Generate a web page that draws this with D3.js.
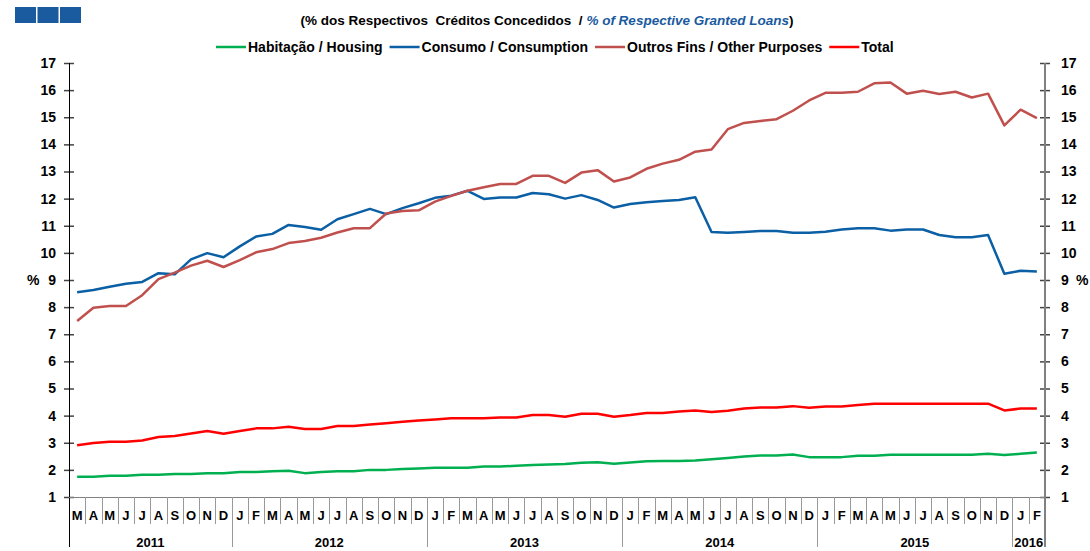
<!DOCTYPE html>
<html>
<head>
<meta charset="utf-8">
<script src="https://cdn.jsdelivr.net/npm/d3@7"></script>
<style>
  body { margin: 0; background: #fff; }
  svg { display: block; font-family: "Liberation Sans", Arial, sans-serif; }
</style>
</head>
<body>
<svg id="chart" width="1090" height="551"></svg>
<script>
// monthly series, Mar 2011 .. Feb 2016
const startMonth = new Date(2011, 2, 1);
const endMonth = new Date(2016, 2, 1);
const monthLetters = ["J", "F", "M", "A", "M", "J", "J", "A", "S", "O", "N", "D"];

const housing = [1.75, 1.75, 1.78, 1.78, 1.82, 1.82, 1.85, 1.85, 1.88, 1.88,
  1.92, 1.92, 1.95, 1.97, 1.88, 1.92, 1.95, 1.95, 2.0, 2.0, 2.03, 2.05,
  2.08, 2.08, 2.08, 2.12, 2.12, 2.15, 2.18, 2.2, 2.22, 2.26, 2.28, 2.23,
  2.27, 2.32, 2.33, 2.33, 2.35, 2.39, 2.44, 2.49, 2.53, 2.53, 2.57, 2.47,
  2.47, 2.47, 2.52, 2.52, 2.56, 2.56, 2.56, 2.56, 2.56, 2.56, 2.59, 2.55,
  2.59, 2.64];
const consumption = [8.55, 8.63, 8.75, 8.86, 8.93, 9.25, 9.21, 9.76, 9.99, 9.84,
  10.24, 10.6, 10.7, 11.03, 10.95, 10.85, 11.24, 11.43, 11.62, 11.43, 11.65, 11.83,
  12.03, 12.11, 12.29, 11.99, 12.04, 12.04, 12.21, 12.16, 12.0, 12.13, 11.95, 11.67,
  11.8, 11.87, 11.91, 11.95, 12.05, 10.77, 10.74, 10.77, 10.81, 10.81, 10.74, 10.74,
  10.78, 10.86, 10.91, 10.91, 10.82, 10.86, 10.86, 10.66, 10.58, 10.58, 10.66, 9.23,
  9.34, 9.31];
const otherPurposes = [7.49, 7.98, 8.04, 8.04, 8.44, 9.03, 9.27, 9.53, 9.71, 9.48,
  9.73, 10.02, 10.14, 10.36, 10.44, 10.56, 10.75, 10.91, 10.91, 11.45, 11.54, 11.57,
  11.89, 12.1, 12.29, 12.42, 12.54, 12.54, 12.84, 12.84, 12.58, 12.96, 13.05, 12.63,
  12.78, 13.1, 13.29, 13.43, 13.73, 13.81, 14.56, 14.79, 14.86, 14.93, 15.24, 15.62,
  15.9, 15.9, 15.94, 16.25, 16.28, 15.87, 15.98, 15.86, 15.94, 15.73, 15.87, 14.7,
  15.28, 14.97];
const total = [2.91, 2.99, 3.04, 3.04, 3.08, 3.21, 3.25, 3.34, 3.43, 3.33,
  3.43, 3.53, 3.53, 3.59, 3.51, 3.51, 3.62, 3.62, 3.67, 3.72, 3.77, 3.82,
  3.86, 3.9, 3.9, 3.9, 3.93, 3.93, 4.02, 4.02, 3.96, 4.07, 4.07, 3.96,
  4.02, 4.1, 4.1, 4.15, 4.19, 4.13, 4.18, 4.26, 4.3, 4.3, 4.35, 4.29,
  4.34, 4.34, 4.39, 4.44, 4.44, 4.44, 4.44, 4.44, 4.44, 4.44, 4.44, 4.19,
  4.26, 4.26];

const seriesNames = ["Habitação / Housing", "Consumo / Consumption", "Outros Fins / Other Purposes", "Total"];
const seriesColors = ["#00b050", "#0b5fa5", "#c0504d", "#ff0000"];
const seriesValues = [housing, consumption, otherPurposes, total];
const yTicks = d3.range(1, 18);

const months = d3.timeMonths(startMonth, endMonth);

const svg = d3.select("#chart");
const margin = { left: 69, right: 1045, top: 63, bottom: 497 };

const x = d3.scaleBand()
    .domain(months.map((d, i) => i))
    .range([margin.left, margin.right])
    .padding(0);
const y = d3.scaleLinear()
    .domain([1, 17])
    .range([margin.bottom, margin.top]);
const cx = i => x(i) + x.bandwidth() / 2;

// logo squares
svg.append("g")
  .selectAll("rect")
  .data([0, 1, 2])
  .join("rect")
    .attr("x", d => 15 + d * 22.5)
    .attr("y", 7)
    .attr("width", 21)
    .attr("height", 16)
    .attr("fill", "#1a5a9e");

// subtitle (keeps the double spaces of the original)
const sub = svg.append("text")
    .attr("x", 547)
    .attr("y", 25)
    .attr("text-anchor", "middle")
    .style("white-space", "pre")
    .style("font-size", "13.5px")
    .style("font-weight", "bold");
sub.append("tspan").attr("fill", "#000").text("(% dos Respectivos  Créditos Concedidos  / ");
sub.append("tspan").attr("fill", "#1a5a9e").style("font-style", "italic").text("% of Respective Granted Loans");
sub.append("tspan").attr("fill", "#000").text(")");

// legend
const legend = svg.append("g").style("font-size", "14px").style("font-weight", "bold");
let lx = 216;
seriesNames.forEach((name, i) => {
  legend.append("line")
      .attr("x1", lx).attr("x2", lx + 30)
      .attr("y1", 47).attr("y2", 47)
      .attr("stroke", seriesColors[i])
      .attr("stroke-width", 2.5);
  const t = legend.append("text")
      .attr("x", lx + 32)
      .attr("y", 52)
      .attr("fill", "#000")
      .text(name);
  lx += 32 + t.node().getComputedTextLength() + 7;
});

// left axis
const yLeft = svg.append("g")
    .attr("transform", `translate(${margin.left},0)`)
    .call(d3.axisLeft(y).tickValues(yTicks).tickSize(5).tickFormat(d3.format("d")));
yLeft.select(".domain").remove();
yLeft.selectAll(".tick line").attr("x1", -5).attr("x2", 5).attr("stroke", "#444").attr("stroke-width", 1.5);
yLeft.selectAll(".tick text").attr("x", -13).style("font-size", "14px").style("font-weight", "bold").attr("fill", "#000");
svg.append("line")
    .attr("x1", margin.left + 0.5).attr("x2", margin.left + 0.5)
    .attr("y1", margin.top).attr("y2", 547)
    .attr("stroke", "#000");

// right axis
const yRight = svg.append("g")
    .attr("transform", `translate(${margin.right},0)`)
    .call(d3.axisRight(y).tickValues(yTicks).tickSize(5).tickFormat(d3.format("d")));
yRight.select(".domain").remove();
yRight.selectAll(".tick line").attr("x1", -5).attr("x2", 5).attr("stroke", "#444").attr("stroke-width", 1.5);
yRight.selectAll(".tick text").attr("x", 16).style("font-size", "14px").style("font-weight", "bold").attr("fill", "#000");
svg.append("line")
    .attr("x1", margin.right).attr("x2", margin.right)
    .attr("y1", margin.top).attr("y2", 547)
    .attr("stroke", "#808080")
    .attr("stroke-width", 2);

svg.append("text").attr("x", 27).attr("y", y(9) + 5)
    .style("font-size", "14px").style("font-weight", "bold").text("%");
svg.append("text").attr("x", 1076).attr("y", y(9) + 5)
    .style("font-size", "14px").style("font-weight", "bold").text("%");

// bottom axis: months and years
svg.append("line")
    .attr("x1", margin.left).attr("x2", margin.right)
    .attr("y1", margin.bottom + 0.5).attr("y2", margin.bottom + 0.5)
    .attr("stroke", "#808080");

const xAxis = svg.append("g");
xAxis.selectAll("line.sep")
  .data(months.slice(1))
  .join("line")
    .attr("class", "sep")
    .attr("x1", (d, i) => Math.round(x(i + 1)) + 0.5)
    .attr("x2", (d, i) => Math.round(x(i + 1)) + 0.5)
    .attr("y1", margin.bottom)
    .attr("y2", d => d.getMonth() === 0 ? 547 : 524)
    .attr("stroke", "#999");

xAxis.selectAll("text.month")
  .data(months)
  .join("text")
    .attr("class", "month")
    .attr("x", (d, i) => cx(i))
    .attr("y", 520)
    .attr("text-anchor", "middle")
    .style("font-size", "13px")
    .style("font-weight", "bold")
    .text(d => monthLetters[d.getMonth()]);

const years = d3.groups(months.map((d, i) => ({ d, i })), e => e.d.getFullYear());
xAxis.selectAll("text.year")
  .data(years)
  .join("text")
    .attr("class", "year")
    .attr("x", ([, arr]) => (x(arr[0].i) + x(arr[arr.length - 1].i) + x.bandwidth()) / 2)
    .attr("y", 547)
    .attr("text-anchor", "middle")
    .style("font-size", "13px")
    .style("font-weight", "bold")
    .text(([yr]) => yr);

// series lines
const line = d3.line()
    .x((d, i) => cx(i))
    .y(d => y(d));

svg.append("g")
  .selectAll("path")
  .data(seriesValues)
  .join("path")
    .attr("fill", "none")
    .attr("stroke", (d, i) => seriesColors[i])
    .attr("stroke-width", 2.5)
    .attr("stroke-linejoin", "round")
    .attr("d", line);
</script>
</body>
</html>
